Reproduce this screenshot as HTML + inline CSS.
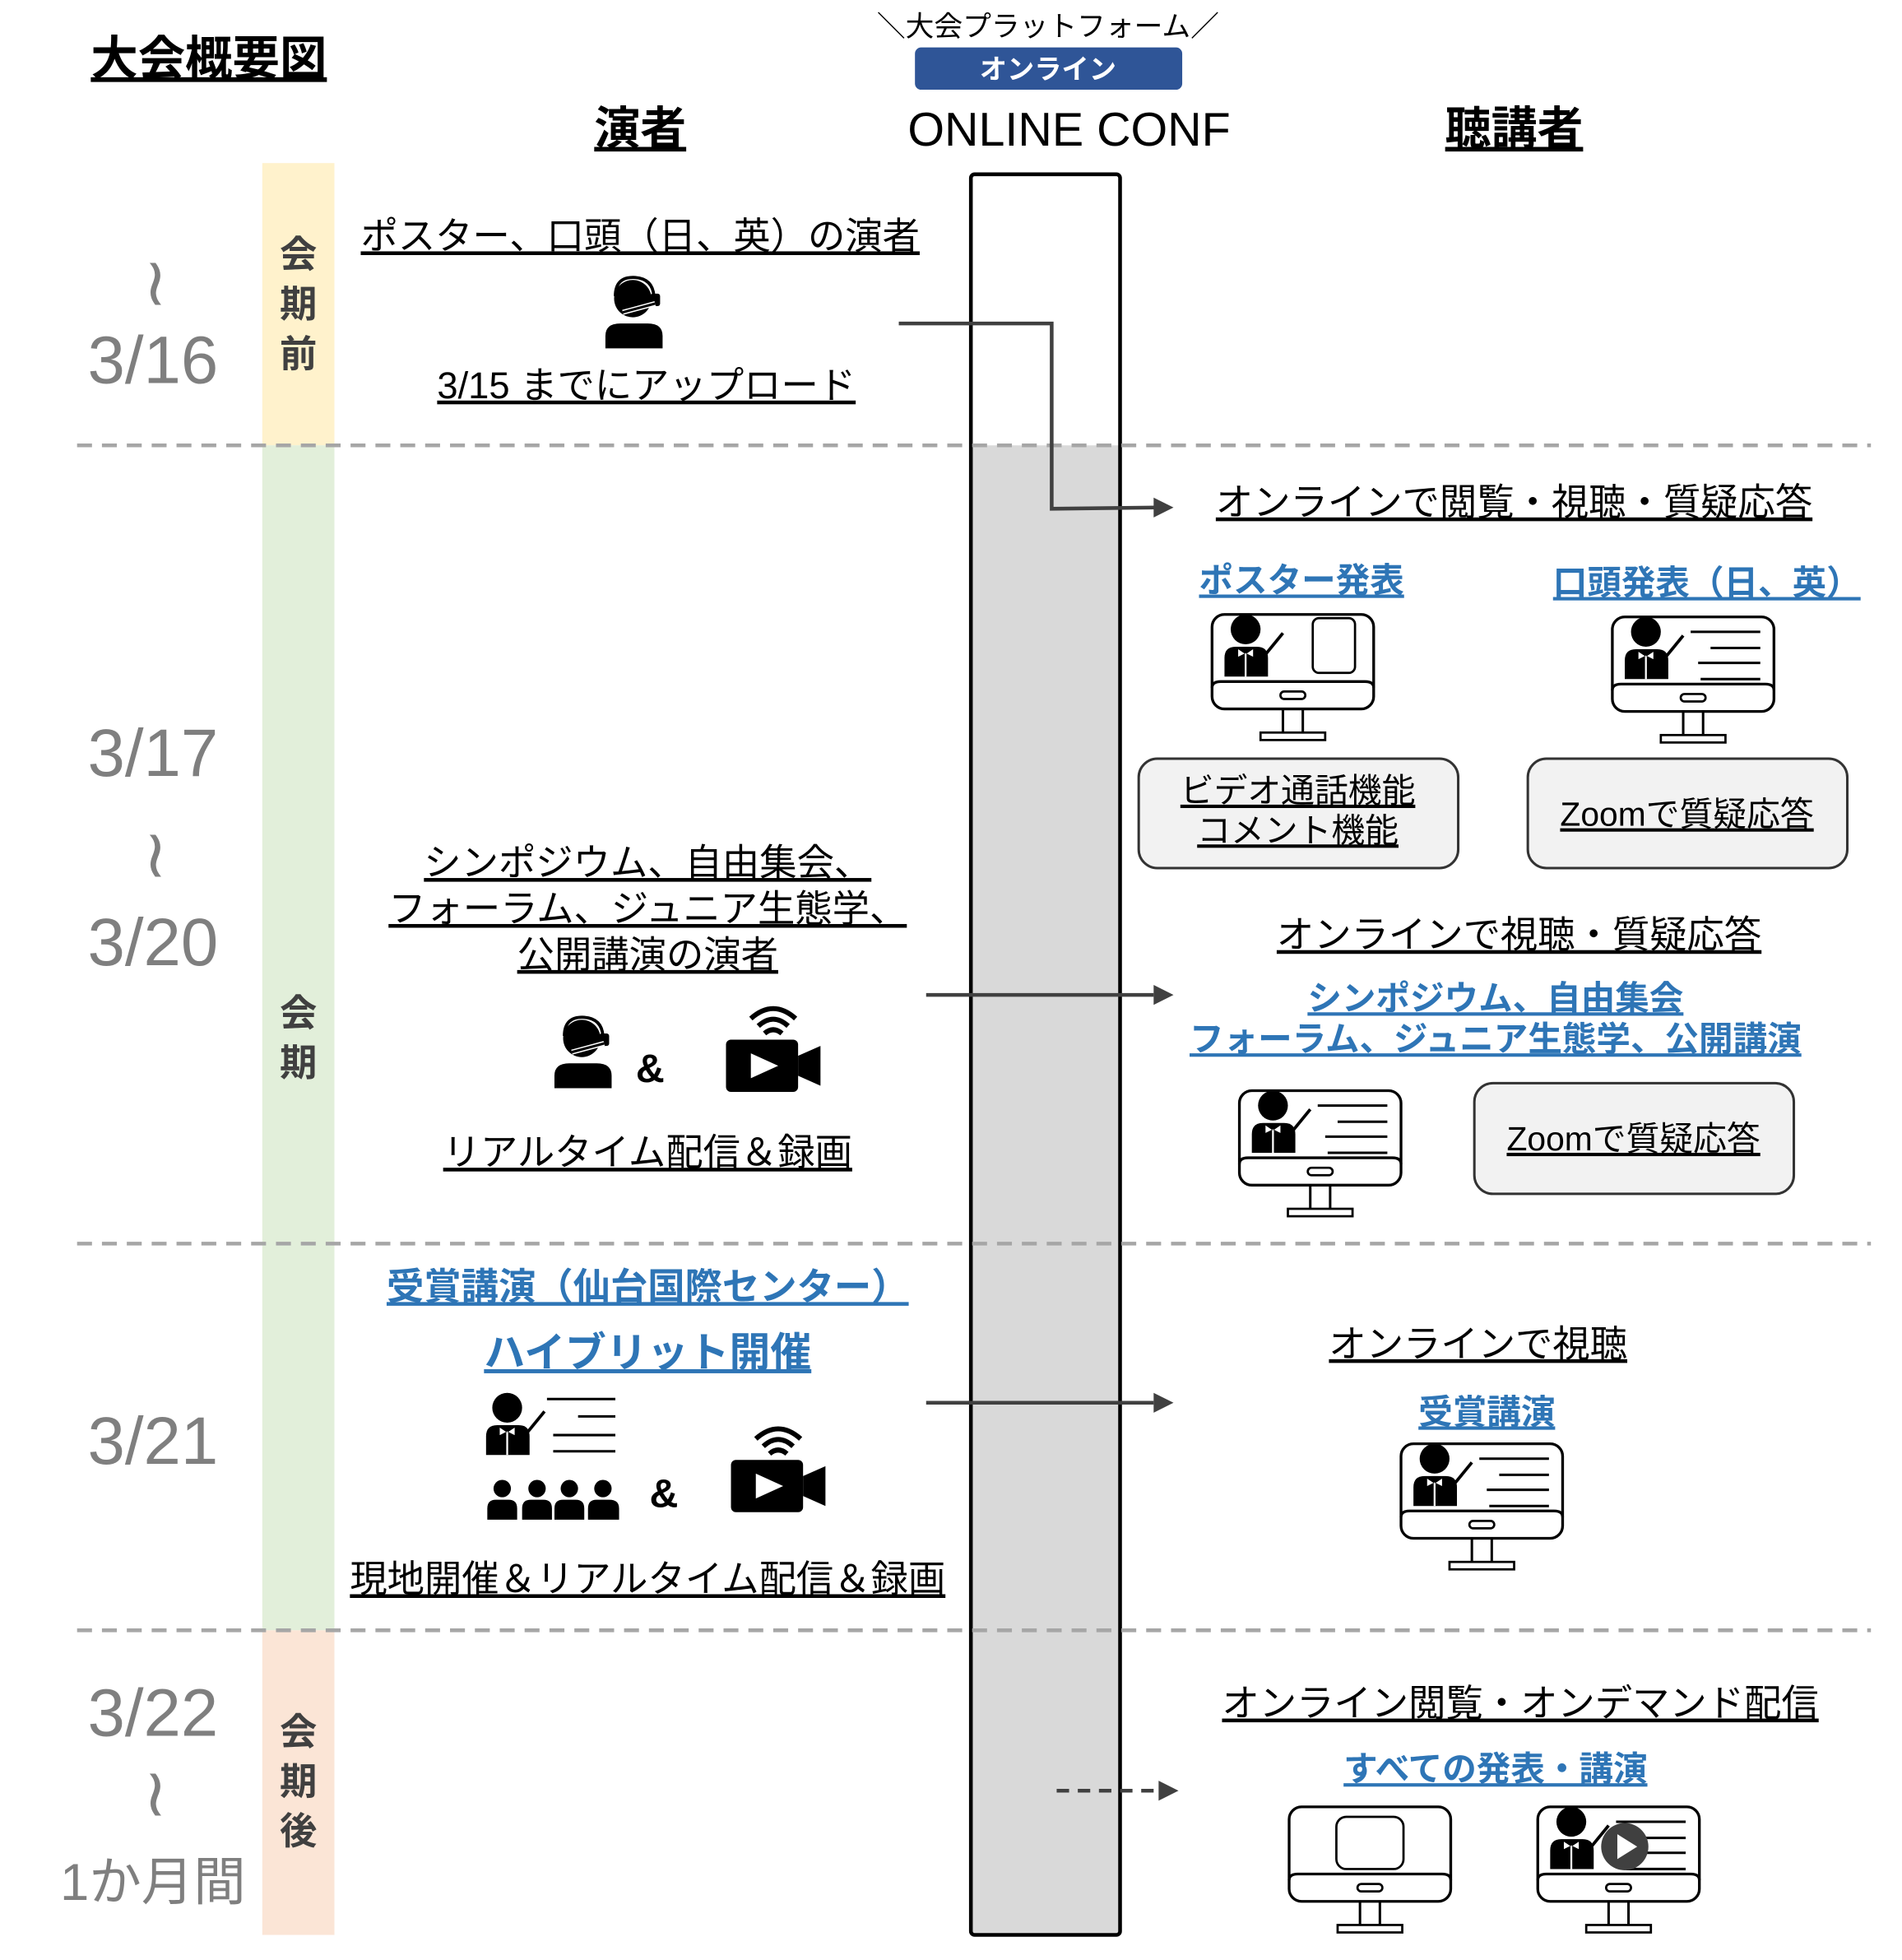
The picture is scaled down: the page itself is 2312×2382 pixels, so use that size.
<!DOCTYPE html>
<html><head><meta charset="utf-8">
<style>
html,body{margin:0;padding:0;background:#fff;}
svg{display:block;}
text{font-family:"Liberation Sans","Noto Sans CJK JP",sans-serif;}
.u{text-decoration:underline;}
</style></head>
<body>
<svg width="2312" height="2382" viewBox="0 0 1530 1576" xmlns="http://www.w3.org/2000/svg">
<defs>
  <g id="mon">
    <rect x="1" y="1" width="130" height="76" rx="10" fill="#fff" stroke="#000" stroke-width="2.2"/>
    <path d="M1 60 Q1 55 8 55 L124 55 Q131 55 131 60" fill="none" stroke="#000" stroke-width="2.2"/>
    <rect x="56" y="63" width="20" height="6" rx="3" fill="none" stroke="#000" stroke-width="1.8"/>
    <line x1="58" y1="77" x2="58" y2="96" stroke="#000" stroke-width="2"/>
    <line x1="74" y1="77" x2="74" y2="96" stroke="#000" stroke-width="2"/>
    <rect x="40" y="96" width="52" height="6" fill="#fff" stroke="#000" stroke-width="1.8"/>
  </g>
  <g id="pres">
    <circle cx="28" cy="17" r="12" fill="#000"/>
    <path d="M11 55 L11 40 Q11 31 20 31 L37 31 Q46 31 46 40 L46 55 Z" fill="#000"/>
    <path d="M22 33 L28 37 L34 33 L34 39 L28 36 L22 39 Z" fill="#fff"/>
    <line x1="28" y1="37" x2="28" y2="55" stroke="#fff" stroke-width="1.5"/>
    <line x1="40" y1="42" x2="58" y2="20" stroke="#000" stroke-width="2.5"/>
  </g>
  <g id="board">
    <line x1="64" y1="13" x2="120" y2="13" stroke="#000" stroke-width="2"/>
    <line x1="80" y1="26" x2="120" y2="26" stroke="#000" stroke-width="2"/>
    <line x1="70" y1="38" x2="120" y2="38" stroke="#000" stroke-width="2"/>
    <line x1="72" y1="51" x2="120" y2="51" stroke="#000" stroke-width="2"/>
  </g>
  <g id="headset">
    <circle cx="22" cy="20" r="15" fill="#000"/>
    <path d="M8 18 Q8 2 24 3 Q38 4 39 18" fill="none" stroke="#000" stroke-width="2.5"/>
    <rect x="36" y="16" width="8" height="10" rx="2" fill="#000"/>
    <path d="M40 24 L14 31" stroke="#fff" stroke-width="4"/>
    <path d="M40 24 L14 31" stroke="#000" stroke-width="2"/>
    <path d="M0 60 L0 50 Q0 40 12 40 L34 40 Q46 40 46 50 L46 60 Z" fill="#000"/>
  </g>
  <g id="cam">
    <path d="M20 14 Q38 -2 56 14" fill="none" stroke="#000" stroke-width="4"/>
    <path d="M26 20 Q38 9 50 20" fill="none" stroke="#000" stroke-width="4"/>
    <path d="M31 26 Q38 20 45 26" fill="none" stroke="#000" stroke-width="4"/>
    <rect x="0" y="31" width="58" height="42" rx="4" fill="#000"/>
    <path d="M58 44 L76 36 L76 68 L58 60 Z" fill="#000"/>
    <path d="M20 42 L42 52 L20 62 Z" fill="#fff"/>
  </g>
</defs>

<rect x="211" y="131" width="58" height="227" fill="#FFF2CC"/>
<rect x="211" y="358" width="58" height="953" fill="#E2EFDA"/>
<rect x="211" y="1311" width="58" height="245" fill="#FBE5D6"/>

<rect x="781" y="358" width="120" height="1198" fill="#D9D9D9"/>
<rect x="781" y="140" width="120" height="1416" rx="3" fill="none" stroke="#000" stroke-width="3"/>

<g stroke="#A6A6A6" stroke-width="3" stroke-dasharray="12,8">
<line x1="62" y1="358" x2="1505" y2="358"/>
<line x1="62" y1="1000" x2="1505" y2="1000"/>
<line x1="62" y1="1311" x2="1505" y2="1311"/>
</g>

<text x="168" y="60" font-size="38" font-weight="bold" text-anchor="middle" class="u">大会概要図</text>
<text x="843" y="29" font-size="23" text-anchor="middle">＼大会プラットフォーム／</text>
<rect x="736" y="38" width="215" height="34" rx="5" fill="#2F5597"/>
<text x="843" y="63" font-size="22" font-weight="bold" fill="#fff" text-anchor="middle">オンライン</text>
<text x="860" y="117" font-size="38" text-anchor="middle">ONLINE CONF</text>
<text x="515" y="116" font-size="37" font-weight="bold" text-anchor="middle" class="u">演者</text>
<text x="1218" y="116" font-size="37" font-weight="bold" text-anchor="middle" class="u">聴講者</text>

<g font-size="30" font-weight="bold" fill="#404040" text-anchor="middle">
<text x="240" y="215">会</text><text x="240" y="255">期</text><text x="240" y="295">前</text>
<text x="240" y="825">会</text><text x="240" y="865">期</text>
<text x="240" y="1403">会</text><text x="240" y="1443">期</text><text x="240" y="1483">後</text>
</g>

<g fill="#7F7F7F" text-anchor="middle" font-size="54">
<text x="125" y="245">≀</text>
<text x="123" y="308">3/16</text>
<text x="123" y="624">3/17</text>
<text x="125" y="705">≀</text>
<text x="123" y="776">3/20</text>
<text x="123" y="1177">3/21</text>
<text x="123" y="1396">3/22</text>
<text x="125" y="1460">≀</text>
<text x="123" y="1528" font-size="42">1か月間</text>
</g>

<text x="515" y="200" font-size="30" text-anchor="middle" class="u">ポスター、口頭（日、英）の演者</text>
<use href="#headset" x="487" y="220"/>
<text x="520" y="320" font-size="30" text-anchor="middle" class="u">3/15 までにアップロード</text>

<polyline points="723,260 846,260 846,409 930,408" fill="none" stroke="#404040" stroke-width="3"/>
<path d="M928 400 L944 408 L928 416 Z" fill="#404040"/>

<text x="1218" y="414" font-size="30" text-anchor="middle" class="u">オンラインで閲覧・視聴・質疑応答</text>
<g fill="#2E75B6" font-weight="bold" font-size="27.5" text-anchor="middle">
<text x="1047" y="476" class="u">ポスター発表</text>
<text x="1373" y="478" class="u">口頭発表（日、英）</text>
</g>
<g transform="translate(974,493)"><use href="#mon"/><use href="#pres" y="-4"/><rect x="82" y="4" width="34" height="44" rx="5" fill="none" stroke="#000" stroke-width="1.8"/></g>
<g transform="translate(1296,495)"><use href="#mon"/><use href="#pres" y="-4"/><use href="#board"/></g>
<rect x="916" y="610" width="257" height="88" rx="15" fill="#F2F2F2" stroke="#333" stroke-width="2"/>
<text x="1044" y="645" font-size="27" text-anchor="middle" class="u">ビデオ通話機能</text>
<text x="1044" y="677" font-size="27" text-anchor="middle" class="u">コメント機能</text>
<rect x="1229" y="610" width="257" height="88" rx="15" fill="#F2F2F2" stroke="#333" stroke-width="2"/>
<text x="1357" y="664" font-size="27" text-anchor="middle" class="u">Zoomで質疑応答</text>

<text x="1222" y="762" font-size="30" text-anchor="middle" class="u">オンラインで視聴・質疑応答</text>
<g fill="#2E75B6" font-weight="bold" font-size="27.5" text-anchor="middle">
<text x="1203" y="812" class="u">シンポジウム、自由集会</text>
<text x="1203" y="845" class="u">フォーラム、ジュニア生態学、公開講演</text>
</g>
<g transform="translate(996,876)"><use href="#mon"/><use href="#pres" y="-4"/><use href="#board"/></g>
<rect x="1186" y="871" width="257" height="89" rx="15" fill="#F2F2F2" stroke="#333" stroke-width="2"/>
<text x="1314" y="925" font-size="27" text-anchor="middle" class="u">Zoomで質疑応答</text>

<g font-size="30" text-anchor="middle">
<text x="521" y="704" class="u">シンポジウム、自由集会、</text>
<text x="521" y="741" class="u">フォーラム、ジュニア生態学、</text>
<text x="521" y="778" class="u">公開講演の演者</text>
<text x="521" y="937" class="u">リアルタイム配信＆録画</text>
</g>
<use href="#headset" x="446" y="815"/>
<text x="523" y="870" font-size="32" font-weight="bold" text-anchor="middle">&amp;</text>
<use href="#cam" x="584" y="805"/>
<line x1="745" y1="800" x2="928" y2="800" stroke="#404040" stroke-width="3"/>
<path d="M928 792 L944 800 L928 808 Z" fill="#404040"/>

<g fill="#2E75B6" font-weight="bold" text-anchor="middle">
<text x="521" y="1045" font-size="30" class="u">受賞講演（仙台国際センター）</text>
<text x="521" y="1099" font-size="33" class="u">ハイブリット開催</text>
</g>
<g transform="translate(385,1115)"><use href="#pres" x="-5" y="0"/>
<line x1="55" y1="10" x2="110" y2="10" stroke="#000" stroke-width="2"/>
<line x1="80" y1="24" x2="110" y2="24" stroke="#000" stroke-width="2"/>
<line x1="60" y1="39" x2="110" y2="39" stroke="#000" stroke-width="2"/>
<line x1="60" y1="52" x2="110" y2="52" stroke="#000" stroke-width="2"/>
</g>
<g fill="#000">
<circle cx="404" cy="1197" r="7"/><path d="M392 1222 L392 1213 Q392 1206 399 1206 L409 1206 Q416 1206 416 1213 L416 1222 Z"/>
<circle cx="432" cy="1197" r="7"/><path d="M420 1222 L420 1213 Q420 1206 427 1206 L437 1206 Q444 1206 444 1213 L444 1222 Z"/>
<circle cx="458" cy="1197" r="7"/><path d="M446 1222 L446 1213 Q446 1206 453 1206 L463 1206 Q470 1206 470 1213 L470 1222 Z"/>
<circle cx="485" cy="1197" r="7"/><path d="M473 1222 L473 1213 Q473 1206 480 1206 L490 1206 Q498 1206 498 1213 L498 1222 Z"/>
</g>
<text x="534" y="1212" font-size="32" font-weight="bold" text-anchor="middle">&amp;</text>
<use href="#cam" x="588" y="1143"/>
<text x="521" y="1280" font-size="30" text-anchor="middle" class="u">現地開催＆リアルタイム配信＆録画</text>
<line x1="745" y1="1128" x2="928" y2="1128" stroke="#404040" stroke-width="3"/>
<path d="M928 1120 L944 1128 L928 1136 Z" fill="#404040"/>

<text x="1189" y="1091" font-size="30" text-anchor="middle" class="u">オンラインで視聴</text>
<text x="1196" y="1145" font-size="27.5" font-weight="bold" fill="#2E75B6" text-anchor="middle" class="u">受賞講演</text>
<g transform="translate(1126,1160)"><use href="#mon"/><use href="#pres" y="-4"/><use href="#board"/></g>

<text x="1223" y="1380" font-size="30" text-anchor="middle" class="u">オンライン閲覧・オンデマンド配信</text>
<text x="1203" y="1432" font-size="27.5" font-weight="bold" fill="#2E75B6" text-anchor="middle" class="u">すべての発表・講演</text>
<line x1="850" y1="1440" x2="934" y2="1440" stroke="#404040" stroke-width="3" stroke-dasharray="10,7"/>
<path d="M932 1432 L948 1440 L932 1448 Z" fill="#404040"/>
<g transform="translate(1036,1452)"><use href="#mon"/><rect x="39" y="9" width="54" height="42" rx="8" fill="none" stroke="#000" stroke-width="1.8"/></g>
<g transform="translate(1236,1452)"><use href="#mon"/><use href="#pres" y="-4"/><use href="#board"/>
<circle cx="71" cy="33" r="19" fill="#404040"/><path d="M65 23 L81 33 L65 43 Z" fill="#fff"/></g>
</svg>
</body></html>
